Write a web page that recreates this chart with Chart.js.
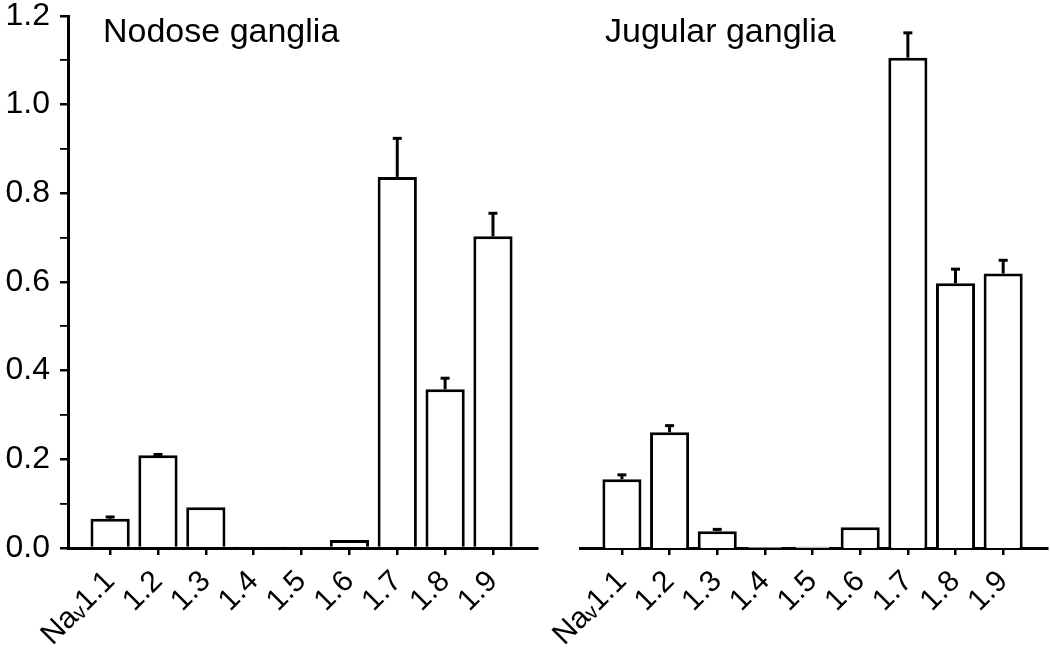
<!DOCTYPE html>
<html><head><meta charset="utf-8">
<script src="https://cdn.jsdelivr.net/npm/chart.js@4"></script>
<style>
html,body{margin:0;padding:0;background:#fff;}
#wrap{position:relative;width:1050px;height:653px;overflow:hidden;background:#fff;}
canvas{position:absolute;top:0;}
</style></head><body>
<div id="wrap">
<canvas id="left" width="545" height="653" style="left:0"></canvas>
<canvas id="right" width="505" height="653" style="left:545px"></canvas>
</div>
<script>
const categories = ['Na\u1D651.1','1.2','1.3','1.4','1.5','1.6','1.7','1.8','1.9'];
const nodoseValues = [0.066, 0.209, 0.092, 0.002, 0.002, 0.018, 0.837, 0.358, 0.703];
const nodoseErrors = [0.004, 0.002, 0, 0, 0, 0, 0.087, 0.025, 0.052];
const jugularValues = [0.155, 0.261, 0.038, 0.002, 0.003, 0.047, 1.106, 0.597, 0.619];
const jugularErrors = [0.010, 0.015, 0.004, 0, 0, 0, 0.056, 0.032, 0.030];
const yTickValues = [0, 0.1, 0.2, 0.3, 0.4, 0.5, 0.6, 0.7, 0.8, 0.9, 1.0, 1.1, 1.2];
const yTickLabels = ['0.0', '', '0.2', '', '0.4', '', '0.6', '', '0.8', '', '1.0', '', '1.2'];
const panelTitles = ['Nodose ganglia', 'Jugular ganglia'];

const FONT = '"Liberation Sans", Arial, Helvetica, sans-serif';

function errorBarPlugin(values, errors) {
  return {
    id: 'errorBars',
    afterDatasetsDraw(chart) {
      const ctx = chart.ctx, x = chart.scales.x, y = chart.scales.y;
      ctx.save();
      ctx.strokeStyle = '#000';
      ctx.lineWidth = 3;
      values.forEach((v, i) => {
        const e = errors[i];
        if (!e) return;
        const px = x.getPixelForValue(i + 1);
        const y0 = y.getPixelForValue(v);
        const y1 = y.getPixelForValue(v + e);
        ctx.beginPath(); ctx.moveTo(px, y0); ctx.lineTo(px, y1); ctx.stroke();
        ctx.beginPath(); ctx.moveTo(px - 4.5, y1); ctx.lineTo(px + 4.5, y1); ctx.stroke();
      });
      ctx.restore();
    }
  };
}

function titlePlugin(text, dx) {
  return {
    id: 'panelTitle',
    afterDraw(chart) {
      const ctx = chart.ctx;
      ctx.save();
      ctx.fillStyle = '#000';
      ctx.font = '34px ' + FONT;
      ctx.textAlign = 'left';
      ctx.textBaseline = 'alphabetic';
      ctx.fillText(text, chart.chartArea.left + dx, 42);
      ctx.restore();
    }
  };
}

function makeChart(id, values, errors, title, showY, padding, titleDx) {
  return new Chart(document.getElementById(id), {
    type: 'bar',
    data: {
      datasets: [{
        data: values.map((v, i) => ({ x: i + 1, y: v })),
        backgroundColor: '#fff',
        borderColor: '#000',
        borderWidth: 3,
        borderSkipped: 'start',
        barPercentage: 0.82,
        categoryPercentage: 1
      }]
    },
    options: {
      responsive: false,
      animation: false,
      devicePixelRatio: 1,
      layout: { padding: padding },
      plugins: { legend: { display: false }, tooltip: { enabled: false } },
      scales: {
        x: {
          type: 'linear', min: 0.12, max: 9.92, position: 'bottom', offset: false,
          afterBuildTicks: s => { s.ticks = categories.map((c, i) => ({ value: i + 1 })); },
          afterFit: s => { s.height = 105; s.paddingLeft = 0; s.paddingRight = 0; s.paddingTop = 0; s.paddingBottom = 0; },
          grid: { offset: false, drawOnChartArea: false, drawTicks: true, tickLength: 7, color: '#000', lineWidth: 2.5 },
          border: { display: true, color: '#000', width: 3 },
          ticks: {
            autoSkip: false, maxRotation: 45, minRotation: 45, padding: 9, color: '#000',
            font: { family: FONT, size: 30 },
            callback: (v, i) => categories[i]
          }
        },
        y: {
          display: showY, min: 0, max: 1.2, position: 'left',
          afterBuildTicks: s => { s.ticks = yTickValues.map(v => ({ value: v })); },
          afterFit: s => { s.width = showY ? 68 : 0; s.paddingTop = 0; s.paddingBottom = 0; s.paddingLeft = 0; s.paddingRight = 0; },
          grid: {
            drawOnChartArea: false, drawTicks: true, tickLength: 8, color: '#000',
            lineWidth: c => (yTickLabels[c.index] ? 2.5 : 1.8)
          },
          border: { display: true, color: '#000', width: 3 },
          ticks: {
            autoSkip: false, padding: 10, color: '#000',
            font: { family: FONT, size: 32 },
            callback: (v, i) => yTickLabels[i]
          }
        }
      }
    },
    plugins: [errorBarPlugin(values, errors), titlePlugin(title, titleDx)]
  });
}

makeChart('left', nodoseValues, nodoseErrors, panelTitles[0], true, { left: 0, top: 16, right: 8, bottom: 0 }, 35);
makeChart('right', jugularValues, jugularErrors, panelTitles[1], false, { left: 35, top: 16, right: 3, bottom: 0 }, 25);
</script>
</body></html>
